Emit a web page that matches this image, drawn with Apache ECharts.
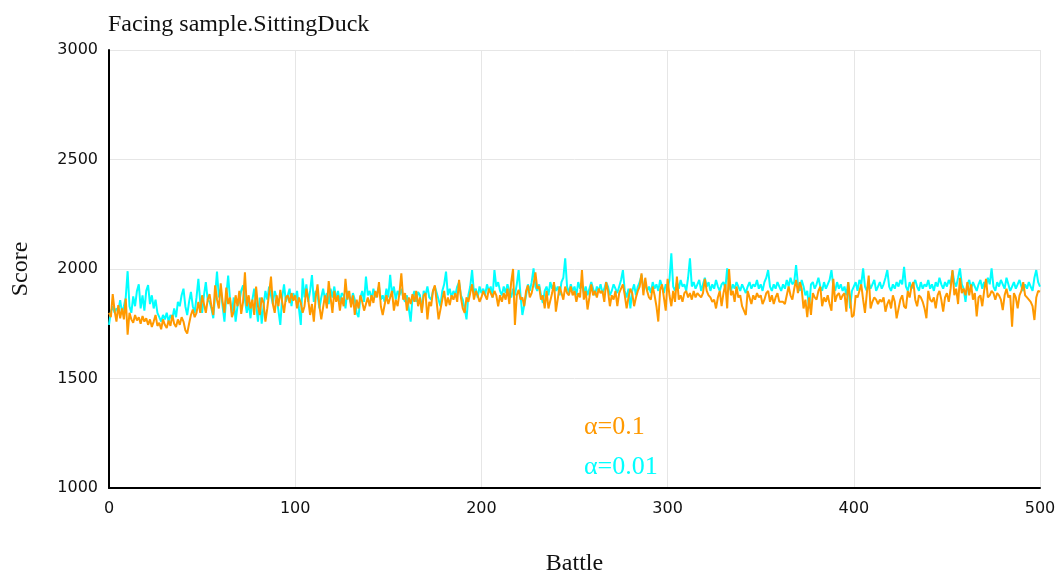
<!DOCTYPE html>
<html>
<head>
<meta charset="utf-8">
<title>Facing sample.SittingDuck</title>
<script src="https://cdn.jsdelivr.net/npm/echarts@6/dist/echarts.min.js"></script>
<style>
  html, body { margin: 0; padding: 0; background: #fff; }
  #chart { width: 1059px; height: 576px; }
</style>
</head>
<body>
<div id="chart"></div>
<script>
const TITLE = "Facing sample.SittingDuck";
const X_TICKS = [0, 100, 200, 300, 400, 500];
const Y_TICKS = [1000, 1500, 2000, 2500, 3000];
const SERIES_NAMES = ["α=0.1", "α=0.01"];

// score per battle, battle 0..500
const alphaSlow = [
  1745, 1805, 1830, 1800, 1820, 1810, 1858, 1800, 1830, 1870, 1990, 1830, 1800, 1875, 1830, 1900, 1930, 1820, 1880, 1810,
  1900, 1927, 1840, 1880, 1820, 1860, 1800, 1780, 1760, 1790, 1770, 1800, 1760, 1790, 1770, 1820, 1780, 1850, 1830, 1880,
  1910, 1830, 1790, 1850, 1895, 1830, 1800, 1870, 1955, 1850, 1800, 1880, 1940, 1860, 1850, 1820, 1775, 1880, 1988, 1870,
  1910, 1830, 1760, 1880, 1970, 1860, 1800, 1870, 1760, 1830, 1850, 1900, 1925, 1860, 1800, 1850, 1775, 1860, 1910, 1840,
  1760, 1870, 1750, 1830, 1900, 1860, 1920, 1880, 1840, 1900, 1870, 1810, 1745, 1870, 1930, 1850, 1880, 1910, 1830, 1890,
  1860, 1900, 1820, 1745, 1957, 1870, 1930, 1850, 1900, 1972, 1850, 1900, 1880, 1820, 1870, 1910, 1860, 1890, 1840, 1910,
  1870, 1920, 1860, 1900, 1850, 1890, 1880, 1820, 1900, 1870, 1840, 1890, 1860, 1800, 1780, 1870, 1900, 1850, 1965, 1880,
  1900, 1860, 1910, 1870, 1890, 1920, 1860, 1880, 1850, 1910, 1870, 1973, 1880, 1920, 1860, 1900, 1880, 1910, 1870, 1850,
  1880, 1820, 1760, 1870, 1900, 1850, 1895, 1880, 1810, 1900, 1880, 1920, 1870, 1860, 1900, 1920, 1890, 1860, 1830, 1900,
  1930, 1988, 1880, 1910, 1870, 1900, 1880, 1920, 1940, 1880, 1860, 1820, 1770, 1880, 1920, 1995, 1890, 1910, 1870, 1920,
  1890, 1910, 1880, 1930, 1900, 1920, 1870, 1995, 1920, 1940, 1900, 1880, 1920, 1890, 1930, 1900, 1870, 1910, 1880, 1930,
  1995, 1880, 1790, 1795, 1880, 1930, 1900, 1940, 2003, 1920, 1900, 1930, 1880, 1845, 1900, 1920, 1880, 1940, 1910, 1930,
  1900, 1920, 1880, 1940, 1960, 2049, 1920, 1890, 1930, 1900, 1920, 1880, 1940, 1910, 1930, 1890, 1920, 1880, 1910, 1940,
  1910, 1880, 1920, 1900, 1930, 1890, 1910, 1940, 1920, 1880, 1900, 1930, 1910, 1890, 1920, 1950, 1995, 1900, 1870, 1910,
  1820, 1900, 1930, 1880, 1920, 1940, 1973, 1910, 1930, 1900, 1920, 1890, 1940, 1910, 1930, 1900, 1950, 1920, 1890, 1930,
  1910, 1950, 2072, 1920, 1900, 1940, 1910, 1950, 1920, 1930, 1900, 1960, 2049, 1920, 1940, 1910, 1930, 1950, 1900, 1930,
  1960, 1920, 1940, 1900, 1930, 1910, 1950, 1920, 1900, 1930, 1940, 1910, 2003, 1920, 1900, 1930, 1910, 1940, 1920, 1900,
  1930, 1910, 1890, 1920, 1940, 1910, 1930, 1920, 1950, 1910, 1930, 1900, 1940, 1960, 1995, 1920, 1900, 1930, 1910, 1940,
  1920, 1900, 1930, 1910, 1950, 1920, 1960, 1930, 1940, 2018, 1930, 1900, 1950, 1920, 1880, 1900, 1820, 1930, 1940, 1910,
  1930, 1960, 1920, 1900, 1940, 1910, 1930, 1950, 1995, 1920, 1900, 1940, 1910, 1930, 1900, 1920, 1880, 1940, 1820, 1900,
  1920, 1940, 1900, 1950, 1930, 2003, 1920, 1900, 1940, 1910, 1930, 1950, 1900, 1920, 1940, 1910, 1930, 1960, 1995, 1920,
  1900, 1930, 1910, 1940, 1920, 1950, 1930, 2010, 1920, 1900, 1940, 1910, 1930, 1950, 1920, 1900, 1940, 1910, 1930, 1920,
  1950, 1910, 1930, 1900, 1940, 1920, 1960, 1930, 1910, 1940, 1920, 1950, 1930, 1990, 1940, 1920, 1960, 2003, 1930, 1910,
  1850, 1930, 1950, 1910, 1940, 1920, 1900, 1930, 1950, 1910, 1940, 1920, 1960, 1930, 2003, 1920, 1900, 1940, 1920, 1950,
  1930, 1910, 1960, 1930, 1900, 1920, 1940, 1910, 1930, 1950, 1920, 1900, 1930, 1910, 1940, 1920, 1900, 1960, 1995, 1940,
  1920,
];

const alphaFast = [
  1800, 1780, 1885, 1810, 1760, 1835, 1775, 1820, 1770, 1865, 1700, 1800, 1770, 1755, 1790, 1765, 1780, 1750, 1785, 1760,
  1775, 1745, 1770, 1735, 1760, 1790, 1740, 1755, 1725, 1770, 1745, 1730, 1765, 1740, 1790, 1750, 1735, 1770, 1745, 1780,
  1760, 1720, 1705, 1750, 1790, 1815, 1780, 1800, 1850, 1800, 1880, 1840, 1800, 1860, 1885, 1830, 1790, 1925, 1860, 1820,
  1935, 1850, 1800, 1915, 1840, 1870, 1780, 1805, 1880, 1830, 1900, 1795, 1850, 1985, 1830, 1880, 1820, 1860, 1790, 1920,
  1830, 1790, 1870, 1845, 1760, 1820, 1890, 1965, 1840, 1800, 1880, 1830, 1905, 1850, 1800, 1870, 1880, 1845, 1890, 1855,
  1880, 1820, 1870, 1845, 1800, 1830, 1910, 1860, 1790, 1840, 1760, 1870, 1930, 1830, 1770, 1765, 1880, 1820, 1945, 1870,
  1800, 1900, 1850, 1880, 1810, 1870, 1830, 1955, 1860, 1900, 1825, 1880, 1790, 1860, 1820, 1880, 1850, 1810, 1840, 1870,
  1830, 1880, 1845, 1900, 1870, 1940, 1830, 1790, 1795, 1880, 1840, 1870, 1900, 1810, 1860, 1830, 1890, 1980, 1860, 1890,
  1810, 1870, 1840, 1885, 1850, 1900, 1830, 1870, 1800, 1880, 1890, 1770, 1850, 1830, 1900, 1925, 1920, 1770, 1765, 1860,
  1900, 1830, 1870, 1835, 1880, 1860, 1890, 1850, 1950, 1870, 1820, 1800, 1870, 1850, 1890, 1930, 1860, 1900, 1880, 1850,
  1870, 1900, 1880, 1860, 1910, 1890, 1870, 1900, 1880, 1830, 1880, 1850, 1890, 1860, 1910, 1840, 1940, 2000, 1745, 1880,
  1905, 1860, 1870, 1830, 1900, 1925, 1870, 1890, 1930, 1985, 1910, 1920, 1860, 1880, 1820, 1900, 1820, 1825, 1890, 1940,
  1805, 1800, 1920, 1890, 1860, 1920, 1890, 1880, 1920, 1880, 1900, 1850, 1890, 1870, 1995, 1860, 1900, 1815, 1870, 1930,
  1880, 1900, 1870, 1910, 1890, 1900, 1850, 1940, 1900, 1830, 1880, 1860, 1900, 1830, 1890, 1910, 1930, 1880, 1820, 1870,
  1910, 1890, 1830, 1870, 1900, 1920, 1980, 1880, 1960, 1900, 1870, 1860, 1920, 1880, 1830, 1760, 1905, 1930, 1870, 1810,
  1955, 1880, 1830, 1900, 1850, 1965, 1860, 1880, 1850, 1890, 1900, 1870, 1890, 1860, 1900, 1870, 1890, 1880, 1870, 1890,
  1955, 1900, 1880, 1870, 1850, 1860, 1820, 1870, 1900, 1830, 1890, 1930, 1820, 2000, 1880, 1900, 1850, 1920, 1870, 1880,
  1830, 1810, 1790, 1900, 1870, 1840, 1880, 1860, 1890, 1870, 1880, 1840, 1860, 1890, 1900, 1850, 1880, 1840, 1870, 1890,
  1850, 1845, 1850, 1840, 1880, 1920, 1880, 1860, 1910, 1950, 1890, 1940, 1910, 1820, 1860, 1780, 1870, 1790, 1890, 1870,
  1860, 1900, 1920, 1830, 1870, 1850, 1880, 1840, 1810, 1955, 1850, 1880, 1890, 1860, 1880, 1890, 1805, 1940, 1870, 1780,
  1790, 1880, 1870, 1900, 1930, 1860, 1800, 1890, 1970, 1820, 1850, 1870, 1860, 1840, 1860, 1850, 1870, 1805, 1840, 1860,
  1820, 1880, 1850, 1775, 1780, 1860, 1880, 1830, 1820, 1900, 1870, 1920, 1940, 1860, 1830, 1880, 1870, 1850, 1820, 1775,
  1900, 1860, 1850, 1870, 1820, 1880, 1900, 1860, 1805, 1870, 1890, 1850, 1910, 1995, 1880, 1910, 1840, 1960, 1890, 1910,
  1880, 1940, 1880, 1930, 1860, 1890, 1783, 1870, 1880, 1830, 1900, 1955, 1870, 1880, 1900, 1890, 1860, 1890, 1880, 1860,
  1812, 1880, 1910, 1870, 1880, 1737, 1890, 1870, 1820, 1880, 1900, 1940, 1880, 1870, 1860, 1850, 1830, 1767, 1870, 1900,
  1896,
];

const COLORS = { fast: "#ff9900", slow: "#00ffff" };
const SERIF = "'Liberation Serif', 'DejaVu Serif', serif";
const SANS = "'DejaVu Sans', sans-serif";

function toPoints(values) {
  return values.map((value, battle) => [battle, value]);
}

function plainNumber(value) {
  return String(value);
}

function renderChart() {
  const chart = echarts.init(document.getElementById("chart"));

  chart.setOption({
    animation: false,
    title: {
      text: TITLE,
      left: 103,
      top: 8,
      textStyle: { fontFamily: SERIF, fontSize: 24, fontWeight: "normal", color: "#111" },
    },
    legend: {
      orient: "vertical",
      left: 574,
      top: 407,
      icon: "none",
      itemWidth: 0,
      itemGap: 10,
      selectedMode: false,
      textStyle: { fontFamily: SERIF, fontSize: 26, lineHeight: 30 },
      data: [
        { name: SERIES_NAMES[0], textStyle: { color: COLORS.fast } },
        { name: SERIES_NAMES[1], textStyle: { color: COLORS.slow } },
      ],
    },
    grid: { left: 109, right: 19, top: 50, bottom: 88, outerBoundsMode: "none", containLabel: false },
    xAxis: {
      type: "value",
      min: X_TICKS[0],
      max: X_TICKS[X_TICKS.length - 1],
      interval: X_TICKS[1] - X_TICKS[0],
      name: "Battle",
      nameLocation: "middle",
      nameGap: 64,
      nameTextStyle: { fontFamily: SERIF, fontSize: 24, color: "#111" },
      axisLine: { lineStyle: { color: "#000", width: 2 } },
      axisTick: { show: false },
      axisLabel: { color: "#111", fontFamily: SANS, fontSize: 16, margin: 13, formatter: plainNumber },
      splitLine: { show: true, lineStyle: { color: "#e6e6e6", width: 1 } },
    },
    yAxis: {
      type: "value",
      min: Y_TICKS[0],
      max: Y_TICKS[Y_TICKS.length - 1],
      interval: Y_TICKS[1] - Y_TICKS[0],
      name: "Score",
      nameLocation: "middle",
      nameGap: 76,
      nameRotate: 90,
      nameTextStyle: { fontFamily: SERIF, fontSize: 24, color: "#111" },
      axisLine: { show: true, lineStyle: { color: "#000", width: 2 } },
      axisTick: { show: false },
      axisLabel: { color: "#111", fontFamily: SANS, fontSize: 16, margin: 11, formatter: plainNumber },
      splitLine: { show: true, lineStyle: { color: "#e6e6e6", width: 1 } },
    },
    series: [
      {
        name: SERIES_NAMES[1],
        type: "line",
        data: toPoints(alphaSlow),
        showSymbol: false,
        color: COLORS.slow,
        lineStyle: { width: 2 },
        z: 2,
      },
      {
        name: SERIES_NAMES[0],
        type: "line",
        data: toPoints(alphaFast),
        showSymbol: false,
        color: COLORS.fast,
        lineStyle: { width: 2 },
        z: 3,
      },
    ],
  });
}

renderChart();
</script>
</body>
</html>
